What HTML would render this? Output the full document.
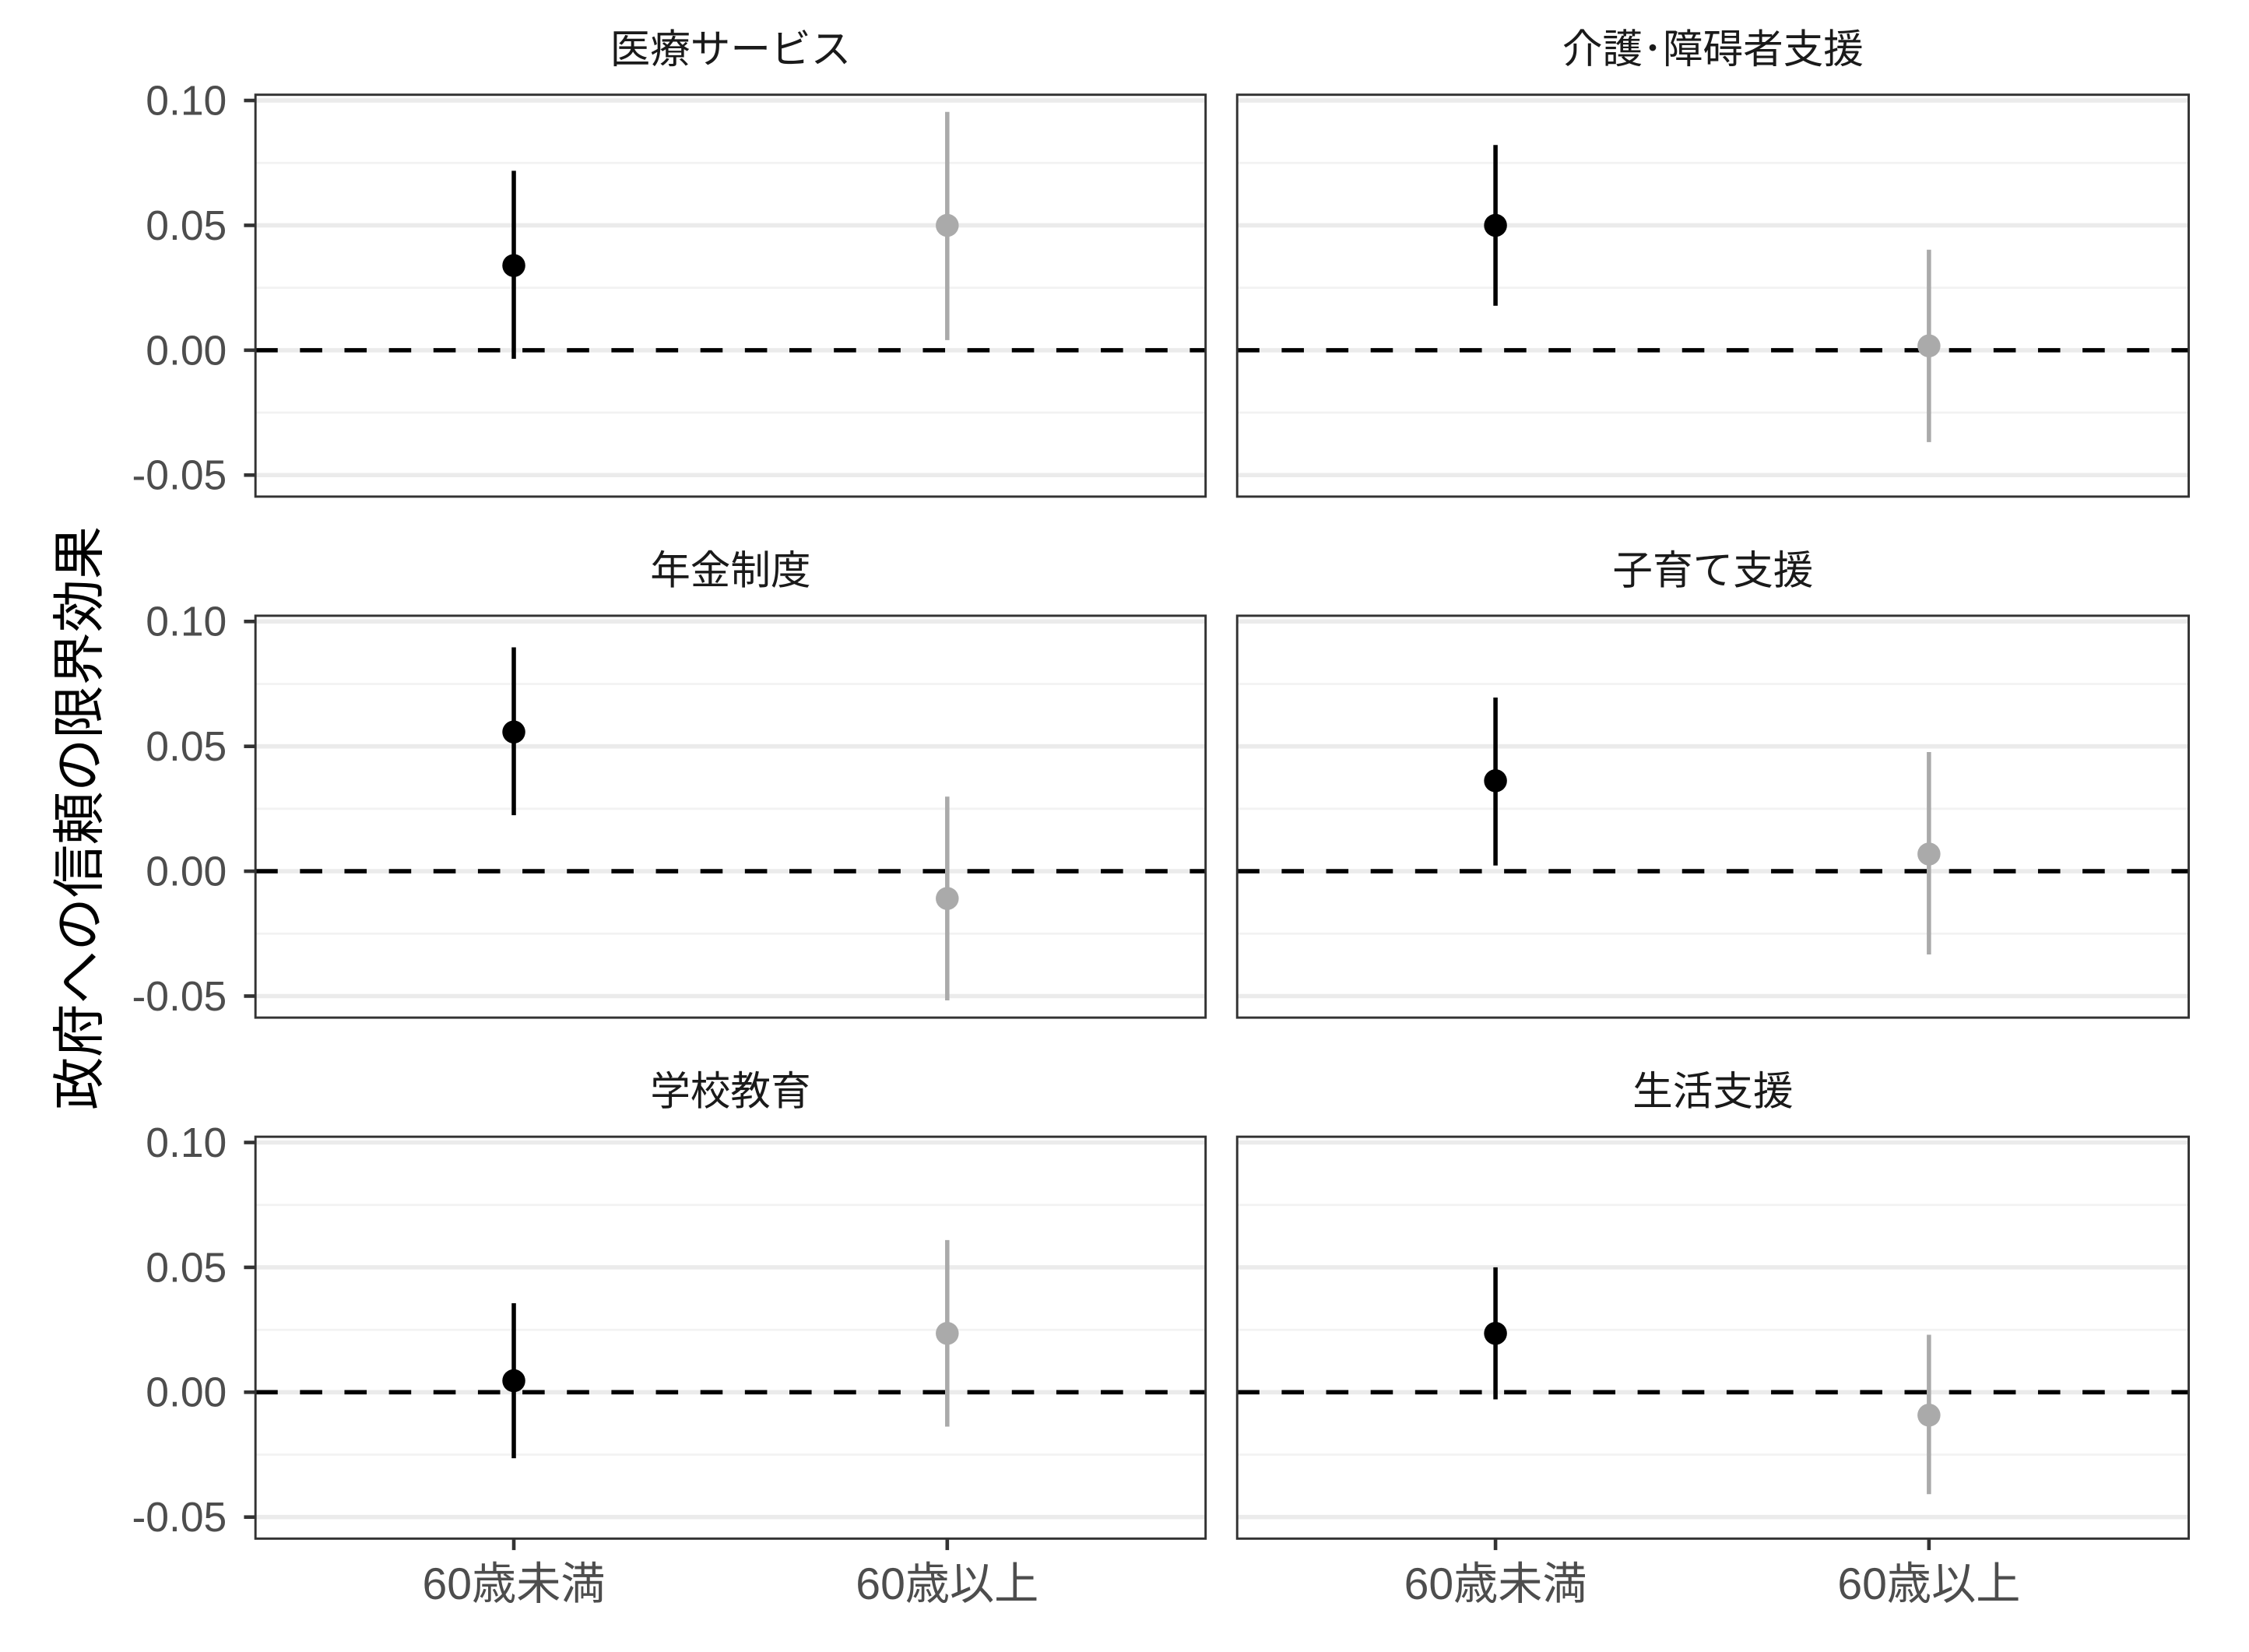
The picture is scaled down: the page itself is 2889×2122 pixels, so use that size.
<!DOCTYPE html>
<html><head><meta charset="utf-8"><style>
html,body{margin:0;padding:0;background:#fff;}
svg{display:block;}
text{font-family:"Liberation Sans","Noto Sans CJK JP",sans-serif;}
</style></head><body>
<svg id="s" width="2889" height="2122" viewBox="0 0 1567 1151" preserveAspectRatio="none" xmlns="http://www.w3.org/2000/svg">
<rect width="1600" height="1200" fill="#fff"/>
<g id="panels"></g>
<text transform="translate(68,570) rotate(-90)" text-anchor="middle" font-size="37" fill="#000">政府への信頼の限界効果</text>
</svg>
<script>
(function(){
var NS="http://www.w3.org/2000/svg",g=document.getElementById("panels");
function el(t,a,txt){var e=document.createElementNS(NS,t);for(var k in a)e.setAttribute(k,a[k]);if(txt)e.textContent=txt;g.appendChild(e);return e;}
var cols=[[178,840,358,660],[862,1525,1042,1344]];
var titles=[["医療サービス","介護･障碍者支援"],["年金制度","子育て支援"],["学校教育","生活支援"]];
var data=[[[185,119,250,157,78,237],[157,101,213,241,174,308]],
[[147,88,205,263,192,334],[181,123,240,232,161,302]],
[[236,182,290,203,138,268],[203,157,249,260,204,315]]];
for(var r=0;r!==3;r++){var off=363*r,tp=66+off,bt=346+off;
for(var c=0;c!==2;c++){var C=cols[c];
 [113.5,200.5,287.5].forEach(function(y){el("line",{x1:C[0],x2:C[1],y1:y+off,y2:y+off,stroke:"#f2f2f2","stroke-width":1.5});});
 [70,157,244,331].forEach(function(y){el("line",{x1:C[0],x2:C[1],y1:y+off,y2:y+off,stroke:"#ebebeb","stroke-width":3});});
 el("line",{x1:C[0],x2:C[1],y1:244+off,y2:244+off,stroke:"#000","stroke-width":3,"stroke-dasharray":"15.5 15.5"});
 var d=data[r][c];
 el("line",{x1:C[2],x2:C[2],y1:d[1]+off,y2:d[2]+off,stroke:"#000","stroke-width":3});
 el("circle",{cx:C[2],cy:d[0]+off,r:8,fill:"#000"});
 el("line",{x1:C[3],x2:C[3],y1:d[4]+off,y2:d[5]+off,stroke:"#aaaaaa","stroke-width":3});
 el("circle",{cx:C[3],cy:d[3]+off,r:8,fill:"#aaaaaa"});
 el("rect",{x:C[0],y:tp,width:C[1]-C[0],height:bt-tp,fill:"none",stroke:"#333","stroke-width":1.6});
 el("text",{x:(C[0]+C[1])/2,y:tp-22,"text-anchor":"middle","font-size":28,fill:"#1a1a1a"},titles[r][c]);
}
 var labs=["0.10","0.05","0.00","-0.05"];
 [70,157,244,331].forEach(function(y,i){el("line",{x1:170,x2:178,y1:y+off,y2:y+off,stroke:"#333","stroke-width":2.5});
  el("text",{x:158,y:y+off+10,"text-anchor":"end","font-size":29,fill:"#4d4d4d"},labs[i]);});
}
cols.forEach(function(C){[[C[2],"60歳未満"],[C[3],"60歳以上"]].forEach(function(p){
 el("line",{x1:p[0],x2:p[0],y1:1072,y2:1080,stroke:"#333","stroke-width":2.5});
 el("text",{x:p[0],y:1114,"text-anchor":"middle","font-size":31,fill:"#4d4d4d"},p[1]);});});
})();
</script>
</body></html>
